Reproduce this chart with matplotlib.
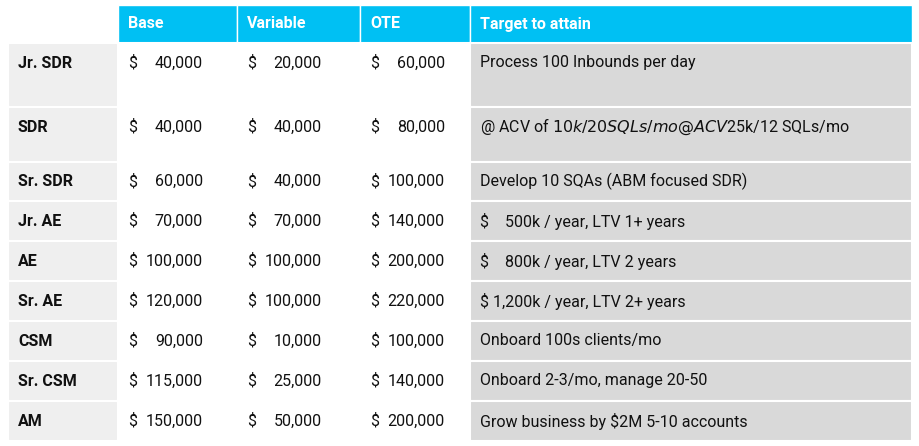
import matplotlib
matplotlib.use("Agg")
import matplotlib.pyplot as plt
from matplotlib.patches import Rectangle

headers = ["", "Base", "Variable", "OTE", "Target to attain"]
roles = ["Jr. SDR", "SDR", "Sr. SDR", "Jr. AE", "AE", "Sr. AE", "CSM", "Sr. CSM", "AM"]
base = ["40,000", "40,000", "60,000", "70,000", "100,000", "120,000", "90,000", "115,000", "150,000"]
variable = ["20,000", "40,000", "40,000", "70,000", "100,000", "100,000", "10,000", "25,000", "50,000"]
ote = ["60,000", "80,000", "100,000", "140,000", "200,000", "220,000", "100,000", "140,000", "200,000"]
targets = ["Process 100 Inbounds per day",
           "@ ACV of $10k/20 SQLs/mo @ ACV $25k/12 SQLs/mo",
           "Develop 10 SQAs (ABM focused SDR)",
           "$    500k / year, LTV 1+ years",
           "$    800k / year, LTV 2 years",
           "$ 1,200k / year, LTV 2+ years",
           "Onboard 100s clients/mo",
           "Onboard 2-3/mo, manage 20-50",
           "Grow business by $2M 5-10 accounts"]

plt.rcParams['font.family'] = ['Roboto', 'DejaVu Sans']
fig = plt.figure(figsize=(9.19, 4.46), dpi=100)
ax = fig.add_axes([0, 0, 1, 1])
ax.set_xlim(0, 919); ax.set_ylim(446, 0); ax.axis('off')

cols = [8, 118, 237, 360, 470, 912]
rows = [5, 43, 107, 162, 201, 241, 281, 321, 361, 401, 441]
cyan = "#00C0F3"
fs = 11.5

for j in range(5):
    x0, x1 = cols[j], cols[j+1]
    if j > 0:
        ax.add_patch(Rectangle((x0, rows[0]), x1-x0, rows[1]-rows[0], fc=cyan, ec="white", lw=1))
        ax.text(x0+10, (rows[0]+rows[1])/2, headers[j], color="white", fontsize=fs,
                fontweight="bold", va="center", ha="left")

fills = ["#EFEFEF", "white", "white", "white", "#D9D9D9"]
for i in range(len(roles)):
    y0, y1 = rows[i+1], rows[i+2]
    if i == 0:
        ty = y0 + 20
    elif i == 1:
        ty = y0 + 20
    else:
        ty = (y0 + y1) / 2
    for j in range(5):
        x0, x1 = cols[j], cols[j+1]
        ax.add_patch(Rectangle((x0, y0), x1-x0, y1-y0, fc=fills[j], ec="white", lw=1.5))
    ax.text(cols[0]+10, ty, roles[i], fontsize=fs, fontweight="bold", va="center", color="#111")
    for j, vals in zip([1, 2, 3], [base, variable, ote]):
        ax.text(cols[j]+10, ty, "$", fontsize=fs, va="center", color="#111")
        ax.text(cols[j]+85, ty, vals[i], fontsize=fs, va="center", ha="right", color="#111")
    ax.text(cols[4]+10, ty, targets[i], fontsize=fs, va="center", color="#111")

fig.savefig("out.png", dpi=100, facecolor="white")
